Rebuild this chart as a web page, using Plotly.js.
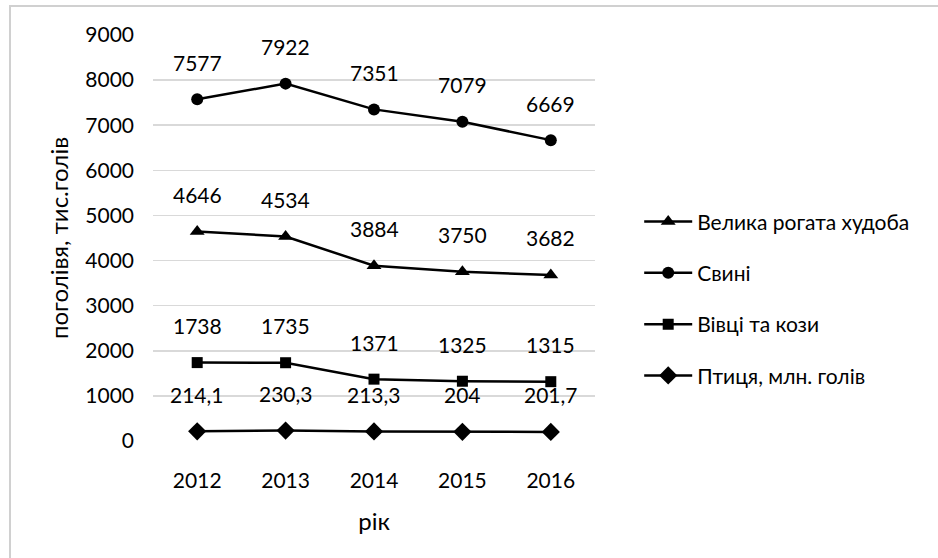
<!DOCTYPE html>
<html>
<head>
<meta charset="utf-8">
<script src="https://cdn.plot.ly/plotly-3.0.1.min.js"></script>
<style>
  html, body { margin: 0; padding: 0; background: #fff; }
  #wrap { position: relative; width: 938px; height: 558px; overflow: hidden; }
  #frame { position: absolute; left: 9px; top: 5px; width: 940px; height: 560px;
           border-left: 2px solid #d0d0d0; border-top: 2px solid #d0d0d0; pointer-events: none; }
  #chart { position: absolute; left: 0; top: 0; width: 938px; height: 558px; }
</style>
</head>
<body>
<div id="wrap">
  <div id="chart"></div>
  <div id="frame"></div>
</div>
<script>
const years = ["2012", "2013", "2014", "2015", "2016"];
const cattle = [4646, 4534, 3884, 3750, 3682];
const pigs = [7577, 7922, 7351, 7079, 6669];
const sheep = [1738, 1735, 1371, 1325, 1315];
const poultry = [214.1, 230.3, 213.3, 204, 201.7];
const poultryLabels = ["214,1", "230,3", "213,3", "204", "201,7"];
const seriesNames = ["Велика рогата худоба", "Свині", "Вівці та кози", "Птиця, млн. голів"];
const yTicks = [0, 1000, 2000, 3000, 4000, 5000, 6000, 7000, 8000, 9000];
const xTitle = "рік";
const yTitle = "поголівя, тис.голів";

const FONT = "Lato, 'Open Sans', sans-serif";
const FS = 21;
const symbols = ["triangle-up", "circle", "square", "diamond"];
const sizes = [13, 12, 11, 14];
const allY = [cattle, pigs, sheep, poultry];

const traces = allY.map((ys, i) => ({
  x: years, y: ys, type: "scatter", mode: "lines+markers",
  name: seriesNames[i], legendgroup: "g" + i,
  line: { color: "#000", width: 2.5 },
  marker: { symbol: symbols[i], size: sizes[i], color: "#000" },
  hoverinfo: "skip"
}));

const annotations = [];
allY.forEach((ys, i) => {
  ys.forEach((v, j) => {
    annotations.push({
      x: j, y: v, xref: "x", yref: "y",
      text: i === 3 ? poultryLabels[j] : String(v),
      showarrow: false, yshift: 37,
      font: { family: FONT, size: FS, color: "#000" }
    });
  });
});

const layout = {
  width: 938, height: 558,
  margin: { l: 153, r: 343, t: 35, b: 117 },
  paper_bgcolor: "#fff", plot_bgcolor: "#fff",
  showlegend: true,
  legend: {
    x: 1.1, xanchor: "left", y: 0.35, yanchor: "middle",
    font: { family: FONT, size: FS, color: "#000" },
    tracegroupgap: 21, traceorder: "grouped", itemwidth: 48,
    bgcolor: "rgba(0,0,0,0)"
  },
  xaxis: {
    type: "category", range: [-0.5, 4.5],
    showgrid: false, zeroline: false, showline: false,
    ticks: "", ticklabelstandoff: 25,
    tickfont: { family: FONT, size: FS, color: "#000" },
    title: { text: xTitle, font: { family: FONT, size: 24, color: "#000" }, standoff: 22 },
    fixedrange: true
  },
  yaxis: {
    range: [0, 9000], tickvals: yTicks,
    showgrid: true, gridcolor: "#d9d9d9", gridwidth: 1.5,
    zeroline: false, showline: false, ticks: "", ticklabelstandoff: 18,
    tickfont: { family: FONT, size: FS, color: "#000" },
    title: { text: yTitle, font: { family: FONT, size: 24, color: "#000" }, standoff: 9 },
    fixedrange: true
  },
  annotations: annotations
};

Plotly.newPlot("chart", traces, layout, { displayModeBar: false, staticPlot: true });
</script>
</body>
</html>
